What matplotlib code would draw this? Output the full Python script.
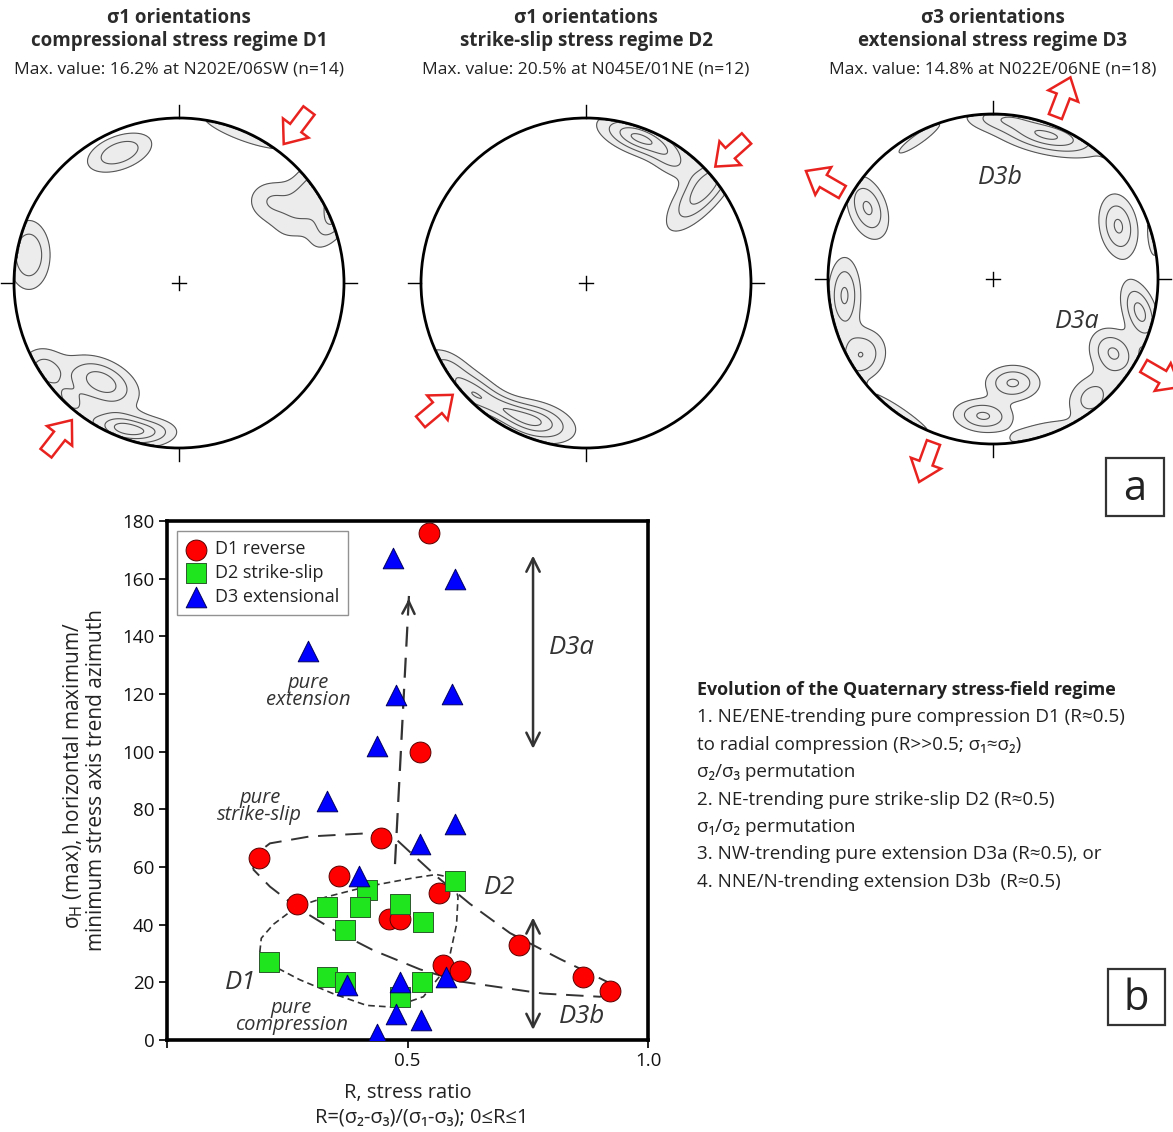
import numpy as np
import matplotlib
matplotlib.use('Agg')
import matplotlib.pyplot as plt
from matplotlib.patches import Circle, Polygon, Rectangle

plt.rcParams['font.family'] = ['Open Sans', 'DejaVu Sans']

# ---------------- data: scatter (panel b) ----------------
d1_R = [0.545, 0.526, 0.444, 0.191, 0.358, 0.270, 0.566, 0.462, 0.485, 0.732, 0.574, 0.610, 0.864, 0.921]
d1_az = [176, 100, 70, 63, 57, 47, 51, 42, 42, 33, 26, 24, 22, 17]
d2_R = [0.599, 0.416, 0.333, 0.401, 0.484, 0.533, 0.370, 0.212, 0.333, 0.370, 0.531, 0.485]
d2_az = [55, 52, 46, 46, 47, 41, 38, 27, 22, 20, 20, 15]
d3_R = [0.470, 0.599, 0.293, 0.477, 0.592, 0.437, 0.333, 0.599, 0.526, 0.399,
        0.580, 0.485, 0.374, 0.477, 0.528, 0.437]
d3_az = [167, 160, 135, 119.5, 120, 102, 83, 75, 68, 57, 22, 20, 19, 9, 7, 2]

# dashed envelope of D1 (long dashes)
env1_R = [0.179, 0.186, 0.214, 0.297, 0.429, 0.470, 0.505, 0.560, 0.630, 0.713, 0.817,
          0.921, 0.931, 0.900, 0.782, 0.609, 0.526, 0.429, 0.345, 0.269, 0.214, 0.179]
env1_az = [59.2, 64.6, 68.2, 70.6, 71.8, 70.6, 65.2, 56.8, 47.2, 37.1, 28.1,
           19.7, 16.7, 15.0, 16.1, 20.3, 24.5, 31.1, 38.3, 46.1, 53.2, 59.2]
# dashed envelope of D2 (short dashes)
env2_R = [0.193, 0.196, 0.221, 0.269, 0.331, 0.415, 0.512, 0.560, 0.595, 0.605, 0.602,
          0.588, 0.567, 0.533, 0.470, 0.415, 0.345, 0.276, 0.221, 0.193]
env2_az = [30.5, 35.3, 40.1, 46.1, 49.6, 53.2, 56.2, 57.4, 56.2, 49.6, 40.1,
           29.3, 22.1, 15.0, 11.4, 12.0, 16.1, 20.9, 25.7, 30.5]
# evolution arrow
evo_R = [0.474, 0.503]
evo_az = [61, 154]
# D3a / D3b ranges
d3a_range = [101, 168]
d3b_range = [3.5, 42.5]
range_R = 0.761

xticks = [0, 0.5, 1.0]
xticklabels = ['', '0.5', '1.0']
yticks = list(range(0, 181, 20))

# ---------------- data: stereonets (panel a) ----------------
titles1 = ['\u03c31 orientations', '\u03c31 orientations', '\u03c33 orientations']
titles2 = ['compressional stress regime D1', 'strike-slip stress regime D2', 'extensional stress regime D3']
maxvals = ['Max. value: 16.2% at N202E/06SW (n=14)',
           'Max. value: 20.5% at N045E/01NE (n=12)',
           'Max. value: 14.8% at N022E/06NE (n=18)']
# density blobs: (x, y, sx, sy, angle, weight) in unit-circle coords
blobs1 = [(-0.36, 0.79, 0.13, 0.065, 20, 0.75),
          (0.83, 0.55, 0.10, 0.20, -40, 0.75),
          (0.97, 0.45, 0.06, 0.15, -30, 0.9),
          (0.55, 0.50, 0.09, 0.08, 0, 0.45),
          (0.40, 0.92, 0.22, 0.05, -20, 0.45),
          (-0.91, 0.17, 0.08, 0.13, 0, 0.8),
          (-0.47, -0.60, 0.14, 0.08, -25, 1.0),
          (-0.34, -0.88, 0.13, 0.06, -10, 1.1),
          (-0.82, -0.52, 0.09, 0.08, -35, 0.6),
          (-0.66, -0.72, 0.10, 0.06, -40, 0.5),
          (-0.15, -0.90, 0.10, 0.05, 0, 0.45)]
blobs2 = [(0.32, 0.88, 0.15, 0.06, -20, 1.1),
          (0.72, 0.58, 0.07, 0.19, -40, 1.0),
          (0.52, 0.74, 0.10, 0.06, -35, 0.45),
          (-0.70, -0.66, 0.12, 0.07, -30, 0.9),
          (-0.30, -0.84, 0.14, 0.07, -15, 1.0),
          (-0.85, -0.50, 0.10, 0.06, -30, 0.5),
          (-0.50, -0.76, 0.12, 0.05, -25, 0.6)]
blobs3 = [(0.33, 0.87, 0.20, 0.065, -12, 1.1),
          (0.05, 0.98, 0.14, 0.05, 0, 0.5),
          (-0.45, 0.85, 0.15, 0.03, 35, 0.35),
          (0.75, 0.72, 0.10, 0.03, -45, 0.35),
          (-0.76, 0.43, 0.07, 0.12, 20, 0.85),
          (0.76, 0.32, 0.07, 0.12, 10, 0.85),
          (0.98, 0.30, 0.03, 0.12, 0, 0.5),
          (-0.90, -0.10, 0.06, 0.14, 0, 0.85),
          (-0.80, -0.46, 0.09, 0.10, -30, 0.8),
          (0.89, -0.20, 0.06, 0.12, 20, 0.9),
          (0.73, -0.45, 0.08, 0.10, 40, 0.85),
          (0.60, -0.72, 0.10, 0.08, 40, 0.65),
          (0.12, -0.63, 0.10, 0.065, 0, 0.85),
          (-0.06, -0.83, 0.11, 0.06, -5, 0.85),
          (0.28, -0.93, 0.14, 0.04, 15, 0.45),
          (-0.55, -0.82, 0.20, 0.03, -35, 0.35)]
blobs = [blobs1, blobs2, blobs3]
# red stress arrows: azimuths (deg from N) and direction (-1 inward, +1 outward)
arrow_az = [[37, 218], [48, 230], [21, 300, 120, 200]]
arrow_dir = [-1, -1, 1]
net_cx = [179, 586, 993]
net_cy = [283, 283, 279]
net_r = 165

evo_lines = ['Evolution of the Quaternary stress-field regime',
             '1. NE/ENE-trending pure compression D1 (R\u22480.5)',
             'to radial compression (R>>0.5; \u03c3\u2081\u2248\u03c3\u2082)',
             '\u03c3\u2082/\u03c3\u2083 permutation',
             '2. NE-trending pure strike-slip D2 (R\u22480.5)',
             '\u03c3\u2081/\u03c3\u2082 permutation',
             '3. NW-trending pure extension D3a (R\u22480.5), or',
             '4. NNE/N-trending extension D3b  (R\u22480.5)']

# ---------------- figure ----------------
W, H = 1173, 1132
fig = plt.figure(figsize=(W / 100, H / 100), dpi=100)

def fx(x):
    return x / W

def fy(y):
    return 1 - y / H

TXT = '#2b2b2b'

# ---------------- stereonets ----------------
ext = 1.35
gx = np.linspace(-1.02, 1.02, 460)
GX, GY = np.meshgrid(gx, gx)
RR = np.hypot(GX, GY)

def density(bl):
    Z = np.zeros_like(GX)
    for (x0, y0, sx, sy, ang, w) in bl:
        a = np.deg2rad(ang)
        u = (GX - x0) * np.cos(a) + (GY - y0) * np.sin(a)
        v = -(GX - x0) * np.sin(a) + (GY - y0) * np.cos(a)
        Z += w * np.exp(-0.5 * ((u / sx) ** 2 + (v / sy) ** 2))
    Z[RR > 0.996] = 0.0
    return Z

def block_arrow(ax, az, direction):
    L, hl, hw, sw = 42 / net_r, 20 / net_r, 16 / net_r, 7 / net_r
    pts = np.array([[-L / 2, -sw], [L / 2 - hl, -sw], [L / 2 - hl, -hw], [L / 2, 0],
                    [L / 2 - hl, hw], [L / 2 - hl, sw], [-L / 2, sw]])
    a = np.deg2rad(az)
    ux, uy = np.sin(a), np.cos(a)
    dx, dy = direction * ux, direction * uy
    rot = np.array([[dx, -dy], [dy, dx]])
    p = pts @ rot.T
    d = 195 / net_r
    p[:, 0] += d * ux
    p[:, 1] += d * uy
    ax.add_patch(Polygon(p, closed=True, facecolor='white', edgecolor='#e8231f',
                         lw=1.8, joinstyle='miter', clip_on=False, zorder=5))

for i in range(3):
    cx, cy = net_cx[i], net_cy[i]
    half = ext * net_r
    ax = fig.add_axes([fx(cx - half), fy(cy + half), 2 * half / W, 2 * half / H])
    ax.set_xlim(-ext, ext)
    ax.set_ylim(-ext, ext)
    ax.set_aspect('equal')
    ax.axis('off')
    Z = density(blobs[i])
    ax.contourf(GX, GY, Z, levels=[0.22, 100], colors=['#ececec'])
    ax.contour(GX, GY, Z, levels=[0.22, 0.5, 0.8, 1.05], colors='#555555', linewidths=0.8)
    ax.add_patch(Circle((0, 0), 1.0, fill=False, edgecolor='black', lw=2.0, zorder=4))
    t = 13 / net_r
    ax.plot([0, 0], [1, 1 + t], color='black', lw=1.0)
    ax.plot([0, 0], [-1, -1 - t], color='black', lw=1.0)
    ax.plot([1, 1 + t], [0, 0], color='black', lw=1.0)
    ax.plot([-1, -1 - t], [0, 0], color='black', lw=1.0)
    c = 7 / net_r
    ax.plot([-c, c], [0, 0], color='black', lw=1.0)
    ax.plot([0, 0], [-c, c], color='black', lw=1.0)
    for az in arrow_az[i]:
        block_arrow(ax, az, arrow_dir[i])
    if i == 2:
        ax.text((1000 - cx) / net_r, (cy - 177) / net_r, 'D3b', fontsize=18, style='italic',
                color='#333333', ha='center', va='center')
        ax.text((1077 - cx) / net_r, (cy - 321) / net_r, 'D3a', fontsize=18, style='italic',
                color='#333333', ha='center', va='center')
    fig.text(fx(cx), fy(18), titles1[i], fontsize=13.5, fontweight='bold', color=TXT,
             ha='center', va='center')
    fig.text(fx(cx), fy(41), titles2[i], fontsize=13.5, fontweight='bold', color=TXT,
             ha='center', va='center')
    fig.text(fx(cx), fy(70), maxvals[i], fontsize=12.5, color='#222222',
             ha='center', va='center')

# panel labels
for (x0, y0, x1, y1, lab) in [(1106, 458, 1164, 516, 'a'), (1108, 969, 1165, 1025, 'b')]:
    fig.patches.append(Rectangle((fx(x0), fy(y1)), (x1 - x0) / W, (y1 - y0) / H,
                                 transform=fig.transFigure, fill=False,
                                 edgecolor='#333333', lw=1.6))
    fig.text(fx((x0 + x1) / 2), fy((y0 + y1) / 2 + 2), lab, fontsize=30, color='#222222',
             ha='center', va='center')

# ---------------- scatter (panel b) ----------------
L0, R0, T0, B0 = 167, 648, 521, 1040
axb = fig.add_axes([fx(L0), fy(B0), (R0 - L0) / W, (B0 - T0) / H])
axb.set_xlim(0, 1)
axb.set_ylim(0, 180)
for s in axb.spines.values():
    s.set_linewidth(2.6)
axb.set_xticks(xticks)
axb.set_xticklabels(xticklabels)
axb.set_yticks(yticks)
axb.tick_params(direction='out', length=6, width=1.3, labelsize=13.5, colors='#111111', pad=3)

axb.plot(env1_R, env1_az, color='#333333', lw=1.4, dashes=(9, 5), zorder=2)
axb.plot(env2_R, env2_az, color='#333333', lw=1.2, dashes=(4, 2.5), zorder=2)
axb.plot(evo_R, evo_az, color='#333333', lw=1.6, dashes=(9, 5), zorder=2)
axb.annotate('', xy=(evo_R[1], evo_az[1]), xytext=(evo_R[1] - 0.0005, evo_az[1] - 3),
             arrowprops=dict(arrowstyle='->', color='#333333', lw=1.8, mutation_scale=22))
for rng in (d3a_range, d3b_range):
    axb.annotate('', xy=(range_R, rng[1]), xytext=(range_R, rng[0]),
                 arrowprops=dict(arrowstyle='<->', color='#333333', lw=1.8, mutation_scale=24,
                                 shrinkA=0, shrinkB=0))

axb.scatter(d1_R, d1_az, s=225, marker='o', facecolor='#ff0000', edgecolor='#5a0000',
            lw=0.7, zorder=3, label='D1 reverse')
axb.scatter(d2_R, d2_az, s=200, marker='s', facecolor='#1ee51e', edgecolor='#2a5a2a',
            lw=0.7, zorder=3, label='D2 strike-slip')
axb.scatter(d3_R, d3_az, s=220, marker='^', facecolor='#0000ff', edgecolor='#000060',
            lw=0.7, zorder=3, label='D3 extensional')

ital = dict(style='italic', color='#333333', ha='center', va='center')
axb.text(0.841, 136, 'D3a', fontsize=18.5, **ital)
axb.text(0.692, 53, 'D2', fontsize=18.5, **ital)
axb.text(0.862, 8, 'D3b', fontsize=18.5, **ital)
axb.text(0.152, 20, 'D1', fontsize=18.5, **ital)
axb.text(0.293, 121, 'pure\nextension', fontsize=14.5, linespacing=0.8, **ital)
axb.text(0.193, 81, 'pure\nstrike-slip', fontsize=14.5, linespacing=0.8, **ital)
axb.text(0.258, 8.3, 'pure\ncompression', fontsize=14.5, linespacing=0.8, **ital)

leg = axb.legend(loc='upper left', bbox_to_anchor=(0.02, 0.98), fontsize=13, frameon=True,
                 fancybox=False, edgecolor='#777777', handletextpad=0.4, borderpad=0.5,
                 labelspacing=0.32, scatterpoints=1, handlelength=1.2, borderaxespad=0)
leg.get_frame().set_linewidth(1.0)
for t in leg.get_texts():
    t.set_color('#222222')

fig.text(fx(73), fy(775), '\u03c3$_\\mathrm{H}$ (max), horizontal maximum/', rotation=90,
         fontsize=15, color='#222222', ha='center', va='center')
fig.text(fx(96), fy(780), 'minimum stress axis trend azimuth', rotation=90,
         fontsize=15, color='#222222', ha='center', va='center')
fig.text(fx(408), fy(1093), 'R, stress ratio', fontsize=14.5, color='#222222',
         ha='center', va='center')
fig.text(fx(422), fy(1118), 'R=(\u03c3\u2082-\u03c3\u2083)/(\u03c3\u2081-\u03c3\u2083); 0\u2264R\u22641',
         fontsize=14.5, color='#222222', ha='center', va='center')

# evolution text
for k, line in enumerate(evo_lines):
    fig.text(fx(697), fy(690 + k * 27.4), line, fontsize=12.9 if k == 0 else 13.6,
             color='#222222', fontweight='bold' if k == 0 else 'normal',
             ha='left', va='center')

fig.savefig('out.png', dpi=100)
